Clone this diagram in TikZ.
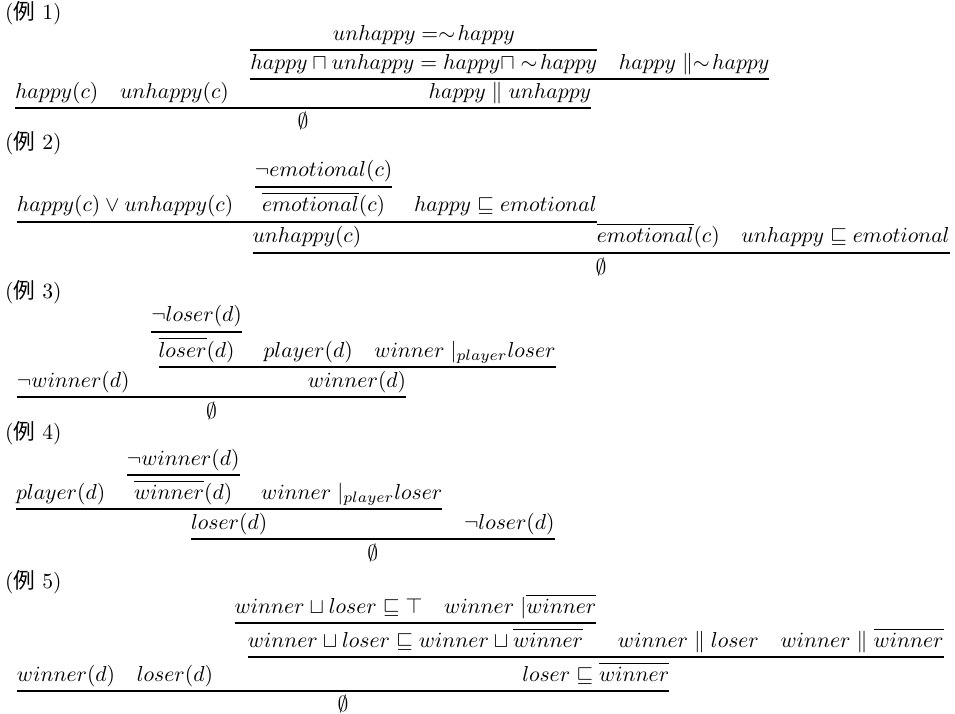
\documentclass[tikz,border=0pt]{standalone}
\usepackage{fontspec}
\newfontfamily\cjk{Noto Sans CJK JP}
\usetikzlibrary{calc}
\begin{document}
\begin{tikzpicture}[x=0.4615pt,y=-0.4615pt,
  f/.style={inner sep=0pt,outer sep=0pt,anchor=base west},
  fc/.style={inner sep=0pt,outer sep=0pt,anchor=base},
  rulestyle/.style={line width=0.55pt},
  lbl/.style={inner sep=0pt,outer sep=0pt,anchor=base west}]
\useasboundingbox (0,0) rectangle (955,714);

% ---------- Example 1
\node[lbl] (x1) at (5,20) {({\cjk 例} 1)};
\node[f] (a1) at (15,99) {$happy(c)$};
\node[f,xshift=1em] (a2) at (a1.base east) {$unhappy(c)$};
\node[f,xshift=1em] (a3) at (a2.base east|-0,70) {$happy \sqcap unhappy = happy \sqcap \sim\! happy$};
\node[fc] (a0) at (a3.base|-0,41) {$unhappy = \sim\! happy$};
\draw[rulestyle] (a3.west|-0,50) -- (a3.east|-0,50);
\node[f,xshift=1em] (a4) at (a3.base east) {$happy \parallel \sim\! happy$};
\draw[rulestyle] (a3.west|-0,79) -- (a4.east|-0,79);
\coordinate (m1) at ($(a3.west)!0.5!(a4.east)$);
\node[fc] (a5) at (m1|-0,99) {$happy \parallel unhappy$};
\draw[rulestyle] (a1.west|-0,108) -- (a5.east|-0,108);
\coordinate (m1b) at ($(a1.west)!0.5!(a5.east)$);
\node[fc] (a6) at (m1b|-0,129) {$\emptyset$};

% ---------- Example 2
\node[lbl] (x2) at (5,150) {({\cjk 例} 2)};
\node[f] (b1) at (17,212) {$happy(c) \lor unhappy(c)$};
\node[f,xshift=1em] (b2) at (b1.base east|-0,177) {$\lnot emotional(c)$};
\draw[rulestyle] (b2.west|-0,187) -- (b2.east|-0,187);
\node[fc] (b3) at (b2.base|-0,212) {$\overline{emotional}(c)$};
\node[f,xshift=1em] (b4) at (b2.base east|-0,212) {$happy \sqsubseteq emotional$};
\draw[rulestyle] (b1.west|-0,222) -- (b4.east|-0,222);
\coordinate (m2) at ($(b1.west)!0.5!(b4.east)$);
\node[fc] (b5) at (m2|-0,243) {$unhappy(c)$};
\node[f] (b6) at (b4.base east|-0,243) {$\overline{emotional}(c)$};
\node[f,xshift=1em] (b7) at (b6.base east) {$unhappy \sqsubseteq emotional$};
\draw[rulestyle] (b5.west|-0,253) -- (b7.east|-0,253);
\coordinate (m3) at ($(b5.west)!0.5!(b7.east)$);
\node[fc] (b8) at (m3|-0,274) {$\emptyset$};

% ---------- Example 3
\node[lbl] (x3) at (5,299) {({\cjk 例} 3)};
\node[f] (c1) at (17,387) {$\lnot winner(d)$};
\node[f,xshift=1em] (c2) at (c1.base east|-0,322) {$\lnot loser(d)$};
\draw[rulestyle] (c2.west|-0,332) -- (c2.east|-0,332);
\node[fc] (c3) at (c2.base|-0,357) {$\overline{loser}(d)$};
\node[f,xshift=1em] (c4) at (c2.base east|-0,357) {$player(d)$};
\node[f,xshift=1em] (c5) at (c4.base east) {$winner\;|_{player}loser$};
\draw[rulestyle] (c3.west|-0,367) -- (c5.east|-0,367);
\coordinate (m4) at ($(c3.west)!0.5!(c5.east)$);
\node[fc] (c6) at (m4|-0,387) {$winner(d)$};
\draw[rulestyle] (c1.west|-0,397) -- (c6.east|-0,397);
\coordinate (m5) at ($(c1.west)!0.5!(c6.east)$);
\node[fc] (c7) at (m5|-0,418) {$\emptyset$};

% ---------- Example 4
\node[lbl] (x4) at (5,439) {({\cjk 例} 4)};
\node[f] (d1) at (16,499) {$player(d)$};
\node[f,xshift=1em] (d2) at (d1.base east|-0,465) {$\lnot winner(d)$};
\draw[rulestyle] (d2.west|-0,475) -- (d2.east|-0,475);
\node[fc] (d3) at (d2.base|-0,499) {$\overline{winner}(d)$};
\node[f,xshift=1em] (d4) at (d2.base east|-0,499) {$winner\;|_{player}loser$};
\draw[rulestyle] (d1.west|-0,509) -- (d4.east|-0,509);
\coordinate (m6) at ($(d1.west)!0.5!(d4.east)$);
\node[fc] (d5) at (m6|-0,529) {$loser(d)$};
\node[f,xshift=1em] (d6) at (d4.base east|-0,529) {$\lnot loser(d)$};
\draw[rulestyle] (d5.west|-0,539) -- (d6.east|-0,539);
\coordinate (m7) at ($(d5.west)!0.5!(d6.east)$);
\node[fc] (d7) at (m7|-0,560) {$\emptyset$};

% ---------- Example 5
\node[lbl] (x5) at (5,588) {({\cjk 例} 5)};
\node[f] (e1) at (17,681) {$winner(d)$};
\node[f,xshift=1em] (e2) at (e1.base east) {$loser(d)$};
\node[f,xshift=1em] (e3) at (e2.base east|-0,613) {$winner \sqcup loser \sqsubseteq \top$};
\node[f,xshift=1em] (e4) at (e3.base east) {$winner\;|\overline{winner}$};
\draw[rulestyle] (e3.west|-0,623) -- (e4.east|-0,623);
\coordinate (m8) at ($(e3.west)!0.5!(e4.east)$);
\node[fc] (e5) at (m8|-0,647) {$winner \sqcup loser \sqsubseteq winner \sqcup \overline{winner}$};
\node[f,xshift=1em] (e6) at (e4.base east|-0,647) {$winner \parallel loser$};
\node[f,xshift=1em] (e7) at (e6.base east) {$winner \parallel \overline{winner}$};
\draw[rulestyle] (e5.west|-0,657) -- (e7.east|-0,657);
\coordinate (m9) at ($(e5.west)!0.5!(e7.east)$);
\node[fc] (e8) at (m9|-0,681) {$loser \sqsubseteq \overline{winner}$};
\draw[rulestyle] (e1.west|-0,691) -- (e8.east|-0,691);
\coordinate (m10) at ($(e1.west)!0.5!(e8.east)$);
\node[fc] (e9) at (m10|-0,711) {$\emptyset$};
\end{tikzpicture}
\end{document}
